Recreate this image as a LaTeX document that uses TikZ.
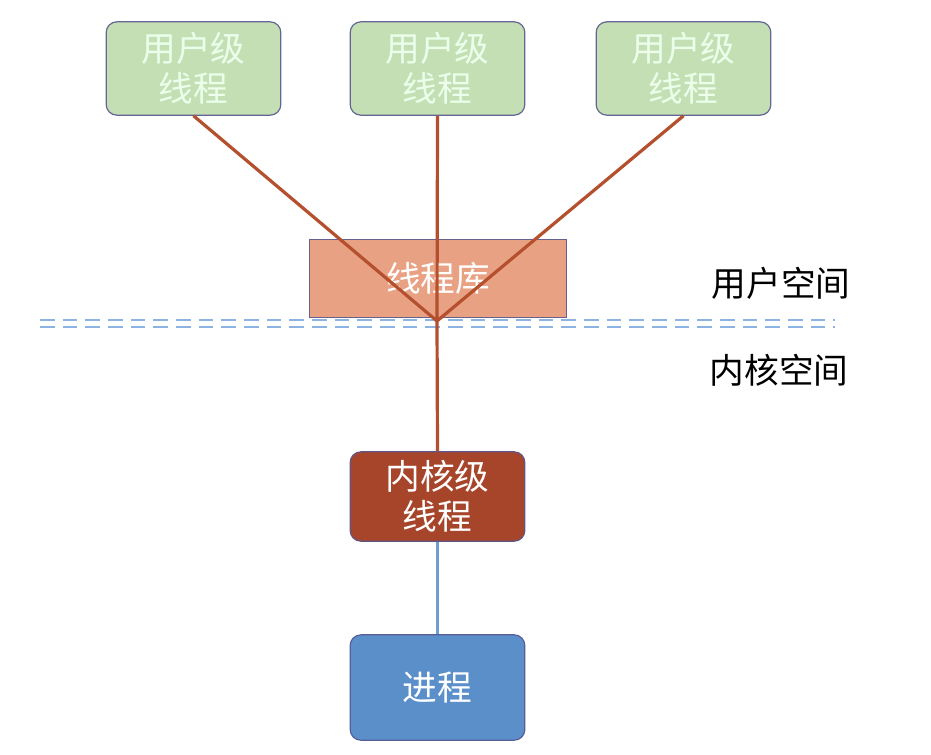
\documentclass[tikz,border=0pt]{standalone}
\usepackage{fontspec}
\newfontfamily\cjk{Noto Sans CJK SC}
\begin{document}
\begin{tikzpicture}[x=0.75pt,y=-0.75pt,
  box/.style={draw=#1!60!black!50!blue!40!gray, line width=0.9pt, rounded corners=8pt, align=center, font=\cjk\fontsize{26}{30}\selectfont, text=white, inner sep=0pt}]
\useasboundingbox[fill=white] (0,0) rectangle (931,754);
\definecolor{ug}{HTML}{C5DFB4}\definecolor{lib}{HTML}{E8A283}\definecolor{kr}{HTML}{A7452B}\definecolor{pr}{HTML}{5B8FCA}\definecolor{lred}{HTML}{B5502F}\definecolor{lblue}{HTML}{6E9DD0}\definecolor{dashc}{HTML}{8DB3E2}
\tikzset{ln/.style={draw=lred, line width=2.4pt}, dl/.style={draw=dashc, line width=2.2pt, dash pattern=on 11pt off 6pt}}
\node[box=ug, fill=ug, minimum width=131pt, minimum height=70pt, text=white!92!green] (u1) at (193.5,68.5) {用户级\\线程};
\node[box=ug, fill=ug, minimum width=131pt, minimum height=70pt, text=white!92!green] (u2) at (437.5,68.5) {用户级\\线程};
\node[box=ug, fill=ug, minimum width=131pt, minimum height=70pt, text=white!92!green] (u3) at (683.5,68.5) {用户级\\线程};
\node[box=lib, fill=lib, rounded corners=0pt, minimum width=193pt, minimum height=58pt] (lib) at (438,278.5) {线程库};
\draw[dl] (40,320) -- (835,320);
\draw[dl] (40,327) -- (835,327);
\coordinate (c) at (437,321);
\node[box=kr, fill=kr, minimum width=131pt, minimum height=67pt] (k) at (437.5,496.5) {内核级\\线程};
\node[box=pr, fill=pr, minimum width=131pt, minimum height=79pt] (p) at (437.5,687.5) {进程};
\draw[ln] (u1.south) -- (c);
\draw[ln] (u2.south) -- (c);
\draw[ln] (u3.south) -- (c);
\draw[ln] (c) -- (k.north);
\draw[lblue, line width=2.4pt] (k.south) -- (p.north);
\node[font=\cjk\fontsize{26}{30}\selectfont] (us) at (781,283) {用户空间};
\node[font=\cjk\fontsize{26}{30}\selectfont] (ks) at (779,370) {内核空间};
\end{tikzpicture}
\end{document}
